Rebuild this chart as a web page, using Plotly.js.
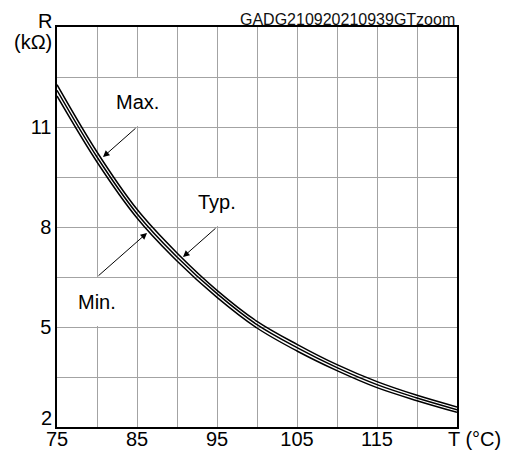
<!DOCTYPE html>
<html>
<head>
<meta charset="utf-8">
<script src="https://cdn.plot.ly/plotly-3.0.1.min.js"></script>
<style>html,body{margin:0;padding:0;background:#fff;}#chart{width:513px;height:453px;}</style>
</head>
<body>
<div id="chart"></div>
<script>
// Temperature (°C)
const temps = [75, 80, 85, 90, 95, 100, 105, 110, 115, 120, 125];
// Resistance (kΩ)
const rMax = [12.27, 10.25, 8.53, 7.22, 6.10, 5.17, 4.48, 3.87, 3.36, 2.95, 2.60];
const rTyp = [12.10, 10.10, 8.40, 7.10, 6.00, 5.07, 4.38, 3.78, 3.27, 2.87, 2.52];
const rMin = [11.93, 9.95, 8.27, 6.98, 5.89, 4.97, 4.28, 3.69, 3.18, 2.79, 2.44];

const xTickVals = [75, 80, 85, 90, 95, 100, 105, 110, 115, 120, 125];
const xTickText = ['75', '', '85', '', '95', '', '105', '', '115', '', ''];
const yTickVals = [2, 3.5, 5, 6.5, 8, 9.5, 11, 12.5, 14];
const yTickText = ['', '', '5', '', '8', '', '11', '', ''];

const chartTitle = 'GADG210920210939GTzoom';
const xUnit = 'T (°C)';
const yName = 'R';
const yUnit = '(kΩ)';

// curve labels and their arrows (tail at a grid crossing, tip on the curves)
const labelNames = ['Max.', 'Typ.', 'Min.'];
const labelX = [85, 95, 80];
const labelY = [11.75, 8.75, 5.75];
const arrowTailX = [85, 95, 80];
const arrowTailY = [11, 8, 6.5];
const arrowTipX = [80.75, 90.75, 86.25];
const arrowTipY = [10.1, 7.1, 7.82];

const FONT = 'Arial, "Liberation Sans", sans-serif';
const lineStyle = {color: '#000', width: 1.5, shape: 'spline', smoothing: 1};

const traces = [rMax, rTyp, rMin].map((r) => ({
  x: temps, y: r, type: 'scatter', mode: 'lines', line: lineStyle,
  hoverinfo: 'skip', showlegend: false
}));

const annotations = [];
for (let i = 0; i < labelNames.length; i++) {
  annotations.push({
    x: labelX[i], y: labelY[i], xref: 'x', yref: 'y', text: labelNames[i],
    showarrow: false, font: {family: FONT, size: 20, color: '#000'}
  });
  annotations.push({
    x: arrowTipX[i], y: arrowTipY[i], xref: 'x', yref: 'y',
    ax: arrowTailX[i], ay: arrowTailY[i], axref: 'x', ayref: 'y',
    text: '', showarrow: true, arrowhead: 2, arrowsize: 1.3, arrowwidth: 1, arrowcolor: '#000'
  });
}
annotations.push({xref: 'paper', yref: 'paper', x: 1.0, y: 1.018, xanchor: 'right', yanchor: 'middle',
  text: chartTitle, showarrow: false, font: {family: FONT, size: 16, color: '#111'}});
annotations.push({xref: 'paper', yref: 'paper', x: -0.008, y: 1.015, xanchor: 'right', yanchor: 'middle',
  text: yName, showarrow: false, font: {family: FONT, size: 20, color: '#000'}});
annotations.push({xref: 'paper', yref: 'paper', x: -0.008, y: 0.9625, xanchor: 'right', yanchor: 'middle',
  text: yUnit, showarrow: false, font: {family: FONT, size: 20, color: '#000'}});
annotations.push({xref: 'paper', yref: 'paper', x: 1.0425, y: -0.03, xanchor: 'center', yanchor: 'middle',
  text: xUnit, showarrow: false, font: {family: FONT, size: 20, color: '#000'}});
annotations.push({xref: 'paper', yref: 'paper', x: -0.008, y: 0.022, xanchor: 'right', yanchor: 'middle',
  text: '2', showarrow: false, font: {family: FONT, size: 20, color: '#000'}});

// white gaps in the grid behind the curve labels
const shapes = [];
for (let i = 0; i < labelNames.length; i++) {
  shapes.push({type: 'line', xref: 'x', yref: 'y', x0: labelX[i], x1: labelX[i],
    y0: labelY[i] - 0.72, y1: labelY[i] + 0.72, line: {color: '#fff', width: 3}, layer: 'between'});
}

const layout = {
  width: 513, height: 453,
  margin: {l: 57, r: 56, t: 27, b: 26, pad: 0},
  paper_bgcolor: '#fff', plot_bgcolor: '#fff',
  showlegend: false,
  font: {family: FONT, size: 20, color: '#000'},
  xaxis: {
    range: [75, 125], tickmode: 'array', tickvals: xTickVals, ticktext: xTickText,
    showgrid: true, gridcolor: '#a3a3a3', gridwidth: 1, zeroline: false,
    showline: true, linecolor: '#000', linewidth: 1.6, mirror: true, ticks: '',
    ticklabelstandoff: -7,
    tickfont: {family: FONT, size: 20, color: '#000'}, fixedrange: true
  },
  yaxis: {
    range: [2, 14], tickmode: 'array', tickvals: yTickVals, ticktext: yTickText,
    showgrid: true, gridcolor: '#a3a3a3', gridwidth: 1, zeroline: false,
    showline: true, linecolor: '#000', linewidth: 1.6, mirror: true, ticks: '',
    tickfont: {family: FONT, size: 20, color: '#000'}, fixedrange: true
  },
  annotations: annotations,
  shapes: shapes
};

Plotly.newPlot('chart', traces, layout, {staticPlot: true, displayModeBar: false});
</script>
</body>
</html>
